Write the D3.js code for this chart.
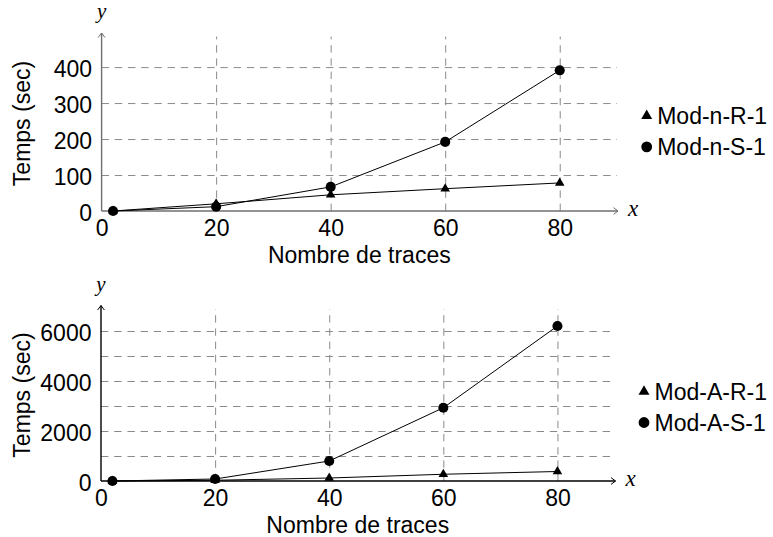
<!doctype html>
<html lang="fr">
<head>
    <meta charset="UTF-8">
    <title>Temps vs nombre de traces</title>
    <style>
        body { margin: 0; background: #fff; }
        svg text { font-family: "Liberation Sans", Arial, sans-serif; fill: #000; }
        .math { font-family: "Liberation Serif", "DejaVu Serif", serif; font-style: italic; }
    </style>
</head>
<body>
<svg id="chart" width="773" height="537"></svg>
<script src="https://d3js.org/d3.v7.min.js"></script>
<script>
    // x values (nombre de traces)
    let traces = [2, 20, 40, 60, 80];

    // panel 1 : Mod-n
    let modNR = [0, 20, 45, 62, 78];
    let modNS = [0, 12, 67, 192, 391];
    let yTicksN = [0, 100, 200, 300, 400];
    let yGridN = [100, 200, 300, 400];
    let legendN = ["Mod-n-R-1", "Mod-n-S-1"];

    // panel 2 : Mod-A
    let modAR = [0, 30, 120, 270, 380];
    let modAS = [0, 80, 800, 2930, 6200];
    let yTicksA = [0, 2000, 4000, 6000];
    let yGridA = [1000, 2000, 3000, 4000, 5000, 6000];
    let legendA = ["Mod-A-R-1", "Mod-A-S-1"];

    let xTicks = [0, 20, 40, 60, 80];
    let xGrid = [20, 40, 60, 80];
    let xTitle = "Nombre de traces";
    let yTitle = "Temps (sec)";

    const svg = d3.select("#chart");
    const fontSize = 23;

    function drawPanel(p) {
        let g = svg.append("g");

        let x = d3.scaleLinear().domain([0, 90]).range([p.left, p.right]);
        let y = d3.scaleLinear().domain([0, p.yMax]).range([p.bottom, p.top]);

        // grid
        g.append("g")
            .attr("transform", "translate(0," + p.bottom + ")")
            .call(d3.axisBottom(x).tickValues(xGrid).tickSize(-(p.bottom - p.top)).tickFormat(""))
            .call(a => a.select(".domain").remove())
            .selectAll("line")
            .attr("stroke", "#8a8a8a")
            .attr("stroke-dasharray", "7.4,5.8");

        g.append("g")
            .attr("transform", "translate(" + p.left + ",0)")
            .call(d3.axisLeft(y).tickValues(p.yGrid).tickSize(-(p.right - p.left)).tickFormat(""))
            .call(a => a.select(".domain").remove())
            .selectAll("line")
            .attr("stroke", "#8a8a8a")
            .attr("stroke-dasharray", "7.4,5.8");

        // axis lines with arrows
        let arrow = function (tx, ty, rot) {
            g.append("path")
                .attr("d", "M-4.5,-3.4 L0,0 L-4.5,3.4")
                .attr("fill", "none")
                .attr("stroke", p.axisColor)
                .attr("stroke-width", 1)
                .attr("transform", "translate(" + tx + "," + ty + ") rotate(" + rot + ")");
        };
        g.append("line")
            .attr("x1", p.left).attr("x2", p.right + 1)
            .attr("y1", p.bottom).attr("y2", p.bottom)
            .attr("stroke", p.axisColor).attr("stroke-width", 1.4);
        arrow(p.right + 1, p.bottom, 0);
        g.append("line")
            .attr("x1", p.left).attr("x2", p.left)
            .attr("y1", p.bottom).attr("y2", p.top - 3.5)
            .attr("stroke", p.axisColor).attr("stroke-width", 1.4);
        arrow(p.left, p.top - 3.5, -90);

        // tick labels
        g.append("g")
            .attr("transform", "translate(0," + p.bottom + ")")
            .call(d3.axisBottom(x).tickValues(xTicks).tickSize(0).tickPadding(8.7).tickFormat(d3.format("d")))
            .attr("font-size", fontSize + "px")
            .call(a => a.select(".domain").remove());

        g.append("g")
            .attr("transform", "translate(" + p.left + ",0)")
            .call(d3.axisLeft(y).tickValues(p.yTicks).tickSize(0).tickPadding(9.5).tickFormat(d3.format("d")))
            .attr("font-size", fontSize + "px")
            .call(a => a.select(".domain").remove())
            .selectAll("text").attr("dy", "0.43em");

        g.selectAll(".tick text").attr("font-family", null).attr("fill", "#000");

        // axis symbols
        g.append("text").attr("class", "math")
            .attr("x", p.left).attr("y", p.top - 18.5)
            .attr("text-anchor", "middle").attr("font-size", "21px")
            .text("y");
        g.append("text").attr("class", "math")
            .attr("x", p.right + 16).attr("y", p.bottom + 5)
            .attr("text-anchor", "middle").attr("font-size", "23px")
            .text("x");

        // titles
        g.append("text")
            .attr("x", (p.left + p.right) / 2).attr("y", p.bottom + 51.7)
            .attr("text-anchor", "middle").attr("font-size", fontSize + "px")
            .text(xTitle);
        g.append("text")
            .attr("transform", "translate(30," + p.titleY + ") rotate(-90)")
            .attr("text-anchor", "middle").attr("font-size", fontSize + "px")
            .text(yTitle);

        // series
        let line = d3.line()
            .x((d, i) => x(traces[i]))
            .y(d => y(d));

        let series = [
            {values: p.r, symbol: d3.symbolTriangle, size: 40, legendSize: 52},
            {values: p.s, symbol: d3.symbolCircle, size: 80, legendSize: 92}
        ];

        series.forEach(function (s) {
            g.append("path")
                .datum(s.values)
                .attr("d", line)
                .attr("fill", "none")
                .attr("stroke", "#000")
                .attr("stroke-width", 1);
        });
        series.forEach(function (s) {
            g.selectAll(null)
                .data(s.values)
                .enter().append("path")
                .attr("d", d3.symbol().type(s.symbol).size(s.size))
                .attr("transform", (d, i) => "translate(" + x(traces[i]) + "," + y(d) + ")")
                .attr("fill", "#000");
        });

        // legend
        let leg = g.append("g")
            .attr("transform", "translate(" + p.legendX + "," + p.legendY + ")");
        series.forEach(function (s, i) {
            leg.append("path")
                .attr("d", d3.symbol().type(s.symbol).size(s.legendSize))
                .attr("transform", "translate(0," + (i * 31) + ")")
                .attr("fill", "#000");
            leg.append("text")
                .attr("x", 10.5).attr("y", i * 31 + 8.3)
                .attr("font-size", fontSize + "px")
                .text(p.legend[i]);
        });
    }

    drawPanel({
        left: 101.6, right: 617, top: 36.5, bottom: 211, yMax: 485,
        yTicks: yTicksN, yGrid: yGridN, r: modNR, s: modNS, legend: legendN,
        axisColor: "#6f6f6f", titleY: 123.5, legendX: 646.7, legendY: 115.8
    });

    drawPanel({
        left: 101, right: 614.5, top: 309, bottom: 481, yMax: 6880,
        yTicks: yTicksA, yGrid: yGridA, r: modAR, s: modAS, legend: legendA,
        axisColor: "#000", titleY: 395, legendX: 644, legendY: 391.5
    });
</script>
</body>
</html>
